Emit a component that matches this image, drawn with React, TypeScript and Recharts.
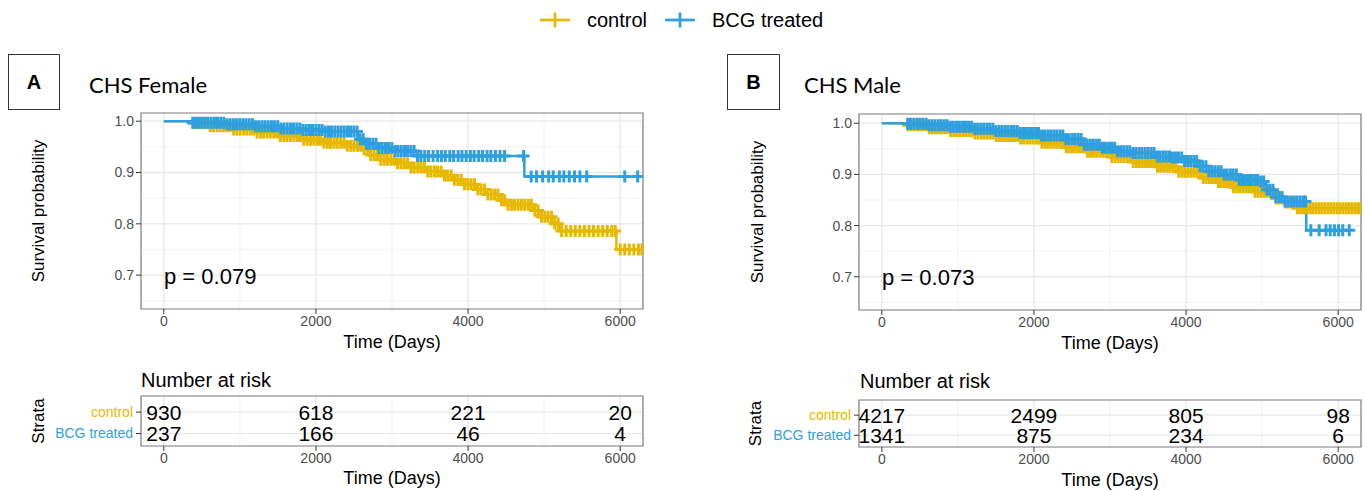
import React from "react";
import {
  ComposedChart,
  Line,
  Scatter,
  XAxis,
  YAxis,
  CartesianGrid,
  ReferenceArea,
  LabelList,
} from "recharts";

const CONTROL = "#E7B800";
const BCG = "#2E9FDF";

const xTicks = [0, 2000, 4000, 6000];
const xMinor = [1000, 3000, 5000];
const yTicks = [0.7, 0.8, 0.9, 1.0];
const yMinor = [0.65, 0.75, 0.85, 0.95];

// CHS Female - Kaplan-Meier steps (days, survival) and censor times
const femaleControlTime = [0, 350, 600, 900, 1200, 1500, 1800, 2100, 2400, 2600, 2700, 2850, 3050, 3250, 3450, 3650, 3800, 3950, 4100, 4250, 4400, 4500, 4850, 4950, 5100, 5200, 5950, 6300];
const femaleControlSurv = [1.0, 0.996, 0.99, 0.984, 0.978, 0.971, 0.964, 0.958, 0.952, 0.946, 0.934, 0.925, 0.918, 0.91, 0.902, 0.894, 0.886, 0.877, 0.867, 0.857, 0.846, 0.837, 0.826, 0.814, 0.8, 0.786, 0.75, 0.75];
const femaleControlCensor = [390, 432, 478, 520, 565, 610, 652, 698, 740, 785, 830, 872, 918, 960, 1005, 1050, 1092, 1138, 1180, 1225, 1270, 1312, 1358, 1400, 1445, 1490, 1532, 1578, 1620, 1665, 1710, 1752, 1798, 1840, 1885, 1930, 1972, 2018, 2060, 2105, 2150, 2192, 2238, 2280, 2325, 2370, 2412, 2458, 2500, 2545, 2590, 2632, 2678, 2720, 2765, 2810, 2852, 2898, 2940, 2985, 3030, 3072, 3118, 3160, 3205, 3250, 3292, 3338, 3380, 3425, 3470, 3512, 3558, 3600, 3645, 3690, 3732, 3778, 3820, 3865, 3910, 3952, 3998, 4040, 4085, 4130, 4172, 4218, 4260, 4305, 4350, 4392, 4438, 4480, 4525, 4570, 4612, 4658, 4700, 4745, 4790, 4832, 4878, 4920, 4965, 5010, 5052, 5098, 5140, 5185, 5230, 5290, 5350, 5410, 5470, 5530, 5590, 5650, 5710, 5770, 5830, 5890, 5935, 6000, 6060, 6120, 6180, 6240, 6285];

const femaleBcgTime = [0, 380, 800, 1200, 1500, 1800, 2100, 2550, 2650, 2800, 3000, 3330, 4740, 6280];
const femaleBcgSurv = [1.0, 0.997, 0.994, 0.99, 0.986, 0.983, 0.98, 0.965, 0.956, 0.948, 0.942, 0.932, 0.892, 0.892];
const femaleBcgCensor = [380, 415, 455, 498, 540, 580, 622, 665, 705, 748, 790, 830, 872, 915, 955, 998, 1040, 1080, 1122, 1165, 1205, 1248, 1290, 1330, 1372, 1415, 1455, 1498, 1540, 1580, 1622, 1665, 1705, 1748, 1790, 1830, 1872, 1915, 1955, 1998, 2040, 2080, 2122, 2165, 2205, 2248, 2290, 2330, 2372, 2415, 2455, 2498, 2540, 2580, 2622, 2665, 2705, 2748, 2790, 2830, 2872, 2915, 2955, 2998, 3040, 3080, 3122, 3165, 3205, 3248, 3290, 3335, 3380, 3430, 3480, 3540, 3600, 3650, 3700, 3760, 3810, 3870, 3920, 3975, 4030, 4080, 4140, 4190, 4250, 4300, 4360, 4420, 4480, 4730, 4830, 4900, 4980, 5060, 5120, 5200, 5260, 5330, 5400, 5470, 5560, 6060, 6230];

// CHS Male
const maleControlTime = [0, 330, 600, 900, 1200, 1500, 1800, 2100, 2400, 2700, 3000, 3300, 3600, 3900, 4200, 4400, 4600, 4900, 5150, 5300, 5450, 6300];
const maleControlSurv = [1.0, 0.996, 0.99, 0.985, 0.98, 0.975, 0.97, 0.962, 0.953, 0.944, 0.934, 0.924, 0.915, 0.905, 0.893, 0.885, 0.875, 0.866, 0.853, 0.845, 0.834, 0.834];
const maleControlCensor = [345, 385, 424, 466, 505, 545, 586, 625, 665, 706, 745, 785, 826, 865, 905, 946, 985, 1025, 1066, 1105, 1145, 1186, 1225, 1265, 1306, 1345, 1385, 1426, 1465, 1505, 1546, 1585, 1625, 1666, 1705, 1745, 1786, 1825, 1865, 1906, 1945, 1985, 2026, 2065, 2105, 2146, 2185, 2225, 2266, 2305, 2345, 2386, 2425, 2465, 2506, 2545, 2585, 2626, 2665, 2705, 2746, 2785, 2825, 2866, 2905, 2945, 2986, 3025, 3065, 3106, 3145, 3185, 3226, 3265, 3305, 3346, 3385, 3425, 3466, 3505, 3545, 3586, 3625, 3665, 3706, 3745, 3785, 3826, 3865, 3905, 3946, 3985, 4025, 4066, 4105, 4145, 4186, 4225, 4265, 4306, 4345, 4385, 4426, 4465, 4505, 4546, 4585, 4625, 4666, 4705, 4745, 4786, 4825, 4865, 4906, 4945, 4985, 5026, 5065, 5105, 5146, 5185, 5225, 5266, 5305, 5345, 5386, 5425, 5465, 5506, 5545, 5585, 5626, 5665, 5705, 5746, 5785, 5825, 5866, 5905, 5945, 5986, 6025, 6065, 6106, 6145, 6185, 6226, 6265, 6295];

const maleBcgTime = [0, 330, 600, 900, 1200, 1500, 1800, 2100, 2400, 2650, 2900, 3100, 3300, 3600, 3800, 3950, 4150, 4300, 4500, 4700, 4950, 5050, 5150, 5300, 5580, 6150];
const maleBcgSurv = [1.0, 0.999, 0.996, 0.993, 0.989, 0.985, 0.981, 0.976, 0.969, 0.958, 0.952, 0.945, 0.942, 0.935, 0.933, 0.926, 0.916, 0.906, 0.9, 0.889, 0.886, 0.87, 0.856, 0.847, 0.791, 0.791];
const maleBcgCensor = [340, 378, 420, 461, 500, 540, 582, 620, 661, 700, 742, 780, 821, 860, 902, 940, 981, 1020, 1062, 1100, 1141, 1180, 1222, 1260, 1301, 1340, 1382, 1420, 1461, 1500, 1542, 1580, 1621, 1660, 1702, 1740, 1781, 1820, 1862, 1900, 1941, 1980, 2022, 2060, 2101, 2140, 2182, 2220, 2261, 2300, 2342, 2380, 2421, 2460, 2502, 2540, 2581, 2620, 2662, 2700, 2741, 2780, 2822, 2860, 2901, 2940, 2982, 3020, 3061, 3100, 3142, 3180, 3221, 3260, 3302, 3340, 3381, 3420, 3462, 3500, 3541, 3580, 3622, 3660, 3701, 3740, 3782, 3820, 3861, 3900, 3942, 3980, 4021, 4060, 4102, 4140, 4181, 4220, 4262, 4300, 4341, 4380, 4422, 4460, 4501, 4540, 4582, 4620, 4661, 4700, 4742, 4780, 4821, 4860, 4902, 4940, 4981, 5020, 5062, 5100, 5141, 5180, 5222, 5260, 5301, 5340, 5382, 5420, 5461, 5500, 5542, 5570, 5640, 5750, 5840, 5895, 5950, 6005, 6060, 6145];

// Number at risk
const riskTimes = [0, 2000, 4000, 6000];
const femaleRiskControl = [930, 618, 221, 20];
const femaleRiskBcg = [237, 166, 46, 4];
const maleRiskControl = [4217, 2499, 805, 98];
const maleRiskBcg = [1341, 875, 234, 6];

const FONT = "'Liberation Sans', Arial, Helvetica, sans-serif";

const toSteps = (time: number[], surv: number[]) =>
  time.map((t, i) => ({ t, s: surv[i] }));

const survAt = (time: number[], surv: number[], t: number) => {
  let v = surv[0];
  for (let i = 0; i < time.length; i++) {
    if (time[i] <= t) v = surv[i];
  }
  return v;
};

const toMarks = (time: number[], surv: number[], censor: number[]) =>
  censor.map((t) => ({ t, s: survAt(time, surv, t) }));

const plusShape = (color: string) => (props: any) => {
  const { cx, cy } = props;
  if (cx == null || cy == null) return <g />;
  return (
    <path
      d={`M${cx - 6},${cy}H${cx + 6}M${cx},${cy - 6}V${cy + 6}`}
      stroke={color}
      strokeWidth={3}
      fill="none"
    />
  );
};

interface Curve {
  time: number[];
  surv: number[];
  censor: number[];
  color: string;
}

function SurvPanel(props: {
  left: number;
  top: number;
  width: number;
  yAxisWidth: number;
  labelOffset: number;
  marginRight: number;
  yDomain: [number, number];
  curves: Curve[];
}) {
  const { left, top, width, yAxisWidth, labelOffset, marginRight, yDomain, curves } = props;
  return (
    <div style={{ position: "absolute", left, top }}>
      <ComposedChart
        width={width}
        height={249}
        margin={{ top: 8, right: marginRight, bottom: 0, left: 0 }}
      >
        <CartesianGrid horizontalValues={yMinor} verticalValues={xMinor} stroke="#f3f3f3" />
        <CartesianGrid horizontalValues={yTicks} verticalValues={xTicks} stroke="#e8e8e8" strokeWidth={1.3} />
        <XAxis
          type="number"
          dataKey="t"
          domain={[-300, 6300]}
          ticks={xTicks}
          allowDataOverflow
          axisLine={false}
          tickSize={5}
          tickMargin={2}
          tick={{ fill: "#4d4d4d", fontSize: 14 }}
          tickLine={{ stroke: "#333" }}
          height={45}
          label={{ value: "Time (Days)", position: "insideBottom", offset: 6, style: { fontSize: 18, fill: "#000" } }}
        />
        <YAxis
          type="number"
          dataKey="s"
          domain={yDomain}
          ticks={yTicks}
          allowDataOverflow
          interval={0}
          width={yAxisWidth}
          axisLine={false}
          tickSize={5}
          tickMargin={2}
          tick={{ fill: "#4d4d4d", fontSize: 14 }}
          tickLine={{ stroke: "#333" }}
          tickFormatter={(v: number) => v.toFixed(1)}
          label={{
            value: "Survival probability",
            angle: -90,
            position: "insideLeft",
            offset: labelOffset,
            style: { textAnchor: "middle", fontSize: 17, fill: "#000" },
          }}
        />
        {curves.map((c, i) => (
          <Line
            key={"l" + i}
            data={toSteps(c.time, c.surv)}
            dataKey="s"
            type="stepAfter"
            stroke={c.color}
            strokeWidth={2.5}
            dot={false}
            isAnimationActive={false}
          />
        ))}
        {curves.map((c, i) => (
          <Scatter
            key={"m" + i}
            data={toMarks(c.time, c.surv, c.censor)}
            dataKey="s"
            shape={plusShape(c.color)}
            isAnimationActive={false}
          />
        ))}
        <ReferenceArea
          x1={-300}
          x2={6300}
          y1={yDomain[0]}
          y2={yDomain[1]}
          fill="none"
          stroke="#7a7a7a"
          strokeWidth={1.2}
        />
      </ComposedChart>
    </div>
  );
}

const StrataTick = (props: any) => {
  const { x, y, payload } = props;
  const isControl = payload.value === 2;
  return (
    <text x={x} y={y} dy="0.35em" textAnchor="end" fontSize={14} fill={isControl ? CONTROL : BCG}>
      {isControl ? "control" : "BCG treated"}
    </text>
  );
};

function RiskTable(props: {
  left: number;
  top: number;
  width: number;
  height: number;
  xAxisHeight: number;
  yAxisWidth: number;
  labelOffset: number;
  titleOffset: number;
  marginRight: number;
  control: number[];
  bcg: number[];
}) {
  const { left, top, width, height, xAxisHeight, yAxisWidth, labelOffset, titleOffset, marginRight, control, bcg } = props;
  const rows = [
    ...riskTimes.map((t, i) => ({ t, row: 2, n: control[i] })),
    ...riskTimes.map((t, i) => ({ t, row: 1, n: bcg[i] })),
  ];
  return (
    <div style={{ position: "absolute", left, top }}>
      <ComposedChart
        width={width}
        height={height}
        margin={{ top: 8, right: marginRight, bottom: 0, left: 0 }}
      >
        <CartesianGrid horizontal={false} verticalValues={xMinor} stroke="#f3f3f3" />
        <CartesianGrid horizontalValues={[1, 2]} verticalValues={xTicks} stroke="#e8e8e8" strokeWidth={1.3} />
        <XAxis
          type="number"
          dataKey="t"
          domain={[-300, 6300]}
          ticks={xTicks}
          allowDataOverflow
          axisLine={false}
          tickSize={5}
          tickMargin={2}
          tick={{ fill: "#4d4d4d", fontSize: 14 }}
          tickLine={{ stroke: "#333" }}
          height={xAxisHeight}
          label={{ value: "Time (Days)", position: "insideBottom", offset: titleOffset, style: { fontSize: 18, fill: "#000" } }}
        />
        <YAxis
          type="number"
          dataKey="row"
          domain={[0.42, 2.75]}
          ticks={[1, 2]}
          interval={0}
          allowDataOverflow
          width={yAxisWidth}
          axisLine={false}
          tickSize={5}
          tickMargin={3}
          tick={<StrataTick />}
          tickLine={{ stroke: "#333" }}
          label={{
            value: "Strata",
            angle: -90,
            position: "insideLeft",
            offset: labelOffset,
            style: { textAnchor: "middle", fontSize: 17, fill: "#000" },
          }}
        />
        <Scatter data={rows} dataKey="row" shape={() => <g />} isAnimationActive={false}>
          <LabelList dataKey="n" position="center" fill="#000" fontSize={21} />
        </Scatter>
        <ReferenceArea
          x1={-300}
          x2={6300}
          y1={0.42}
          y2={2.75}
          fill="none"
          stroke="#7a7a7a"
          strokeWidth={1.2}
        />
      </ComposedChart>
    </div>
  );
}

function LegendKey({ color }: { color: string }) {
  return (
    <svg width={30} height={16} style={{ display: "block" }}>
      <line x1={0} y1={8} x2={30} y2={8} stroke={color} strokeWidth={2.7} />
      <line x1={15} y1={0.5} x2={15} y2={15.5} stroke={color} strokeWidth={2.7} />
    </svg>
  );
}

const abs = (left: number, top: number, extra: React.CSSProperties = {}): React.CSSProperties => ({
  position: "absolute",
  left,
  top,
  whiteSpace: "nowrap",
  ...extra,
});

export default function App() {
  return (
    <div
      style={{
        position: "absolute",
        left: 0,
        top: 0,
        width: 1365,
        height: 491,
        background: "#fff",
        fontFamily: FONT,
        overflow: "hidden",
      }}
    >
      {/* legend */}
      <div style={abs(540, 12)}><LegendKey color={CONTROL} /></div>
      <div style={abs(587, 10, { fontSize: 20, lineHeight: "20px" })}>control</div>
      <div style={abs(665, 12)}><LegendKey color={BCG} /></div>
      <div style={abs(712, 10, { fontSize: 20, lineHeight: "20px" })}>BCG treated</div>

      {/* panel labels */}
      <div
        style={abs(8, 54, {
          width: 50,
          height: 54,
          border: "1.5px solid #333",
          display: "flex",
          alignItems: "center",
          justifyContent: "center",
          fontWeight: "bold",
          fontSize: 20,
        })}
      >
        A
      </div>
      <div style={abs(89, 72, { fontFamily: "Lato, sans-serif", fontSize: 22, lineHeight: "26px" })}>CHS Female</div>
      <div
        style={abs(727, 54, {
          width: 51,
          height: 54,
          border: "1.5px solid #333",
          display: "flex",
          alignItems: "center",
          justifyContent: "center",
          fontWeight: "bold",
          fontSize: 20,
        })}
      >
        B
      </div>
      <div style={abs(804, 72, { fontFamily: "Lato, sans-serif", fontSize: 22, lineHeight: "26px" })}>CHS Male</div>

      <SurvPanel
        left={0}
        top={105}
        width={651}
        yAxisWidth={141}
        labelOffset={38}
        marginRight={8}
        yDomain={[0.634, 1.016]}
        curves={[
          { time: femaleControlTime, surv: femaleControlSurv, censor: femaleControlCensor, color: CONTROL },
          { time: femaleBcgTime, surv: femaleBcgSurv, censor: femaleBcgCensor, color: BCG },
        ]}
      />
      <SurvPanel
        left={715}
        top={106}
        width={650}
        yAxisWidth={144}
        labelOffset={42}
        marginRight={4}
        yDomain={[0.635, 1.018]}
        curves={[
          { time: maleControlTime, surv: maleControlSurv, censor: maleControlCensor, color: CONTROL },
          { time: maleBcgTime, surv: maleBcgSurv, censor: maleBcgCensor, color: BCG },
        ]}
      />

      <div style={abs(164, 265, { fontSize: 22, lineHeight: "24px" })}>p = 0.079</div>
      <div style={abs(882, 266, { fontSize: 22, lineHeight: "24px" })}>p = 0.073</div>

      <div style={abs(141, 369, { fontSize: 20, lineHeight: "22px" })}>Number at risk</div>
      <div style={abs(860, 370, { fontSize: 20, lineHeight: "22px" })}>Number at risk</div>

      <RiskTable
        left={0}
        top={388}
        width={651}
        height={103}
        xAxisHeight={45}
        yAxisWidth={141}
        labelOffset={38}
        titleOffset={7}
        marginRight={8}
        control={femaleRiskControl}
        bcg={femaleRiskBcg}
      />
      <RiskTable
        left={715}
        top={392}
        width={650}
        height={99}
        xAxisHeight={44}
        yAxisWidth={144}
        labelOffset={40}
        titleOffset={5}
        marginRight={4}
        control={maleRiskControl}
        bcg={maleRiskBcg}
      />
    </div>
  );
}
